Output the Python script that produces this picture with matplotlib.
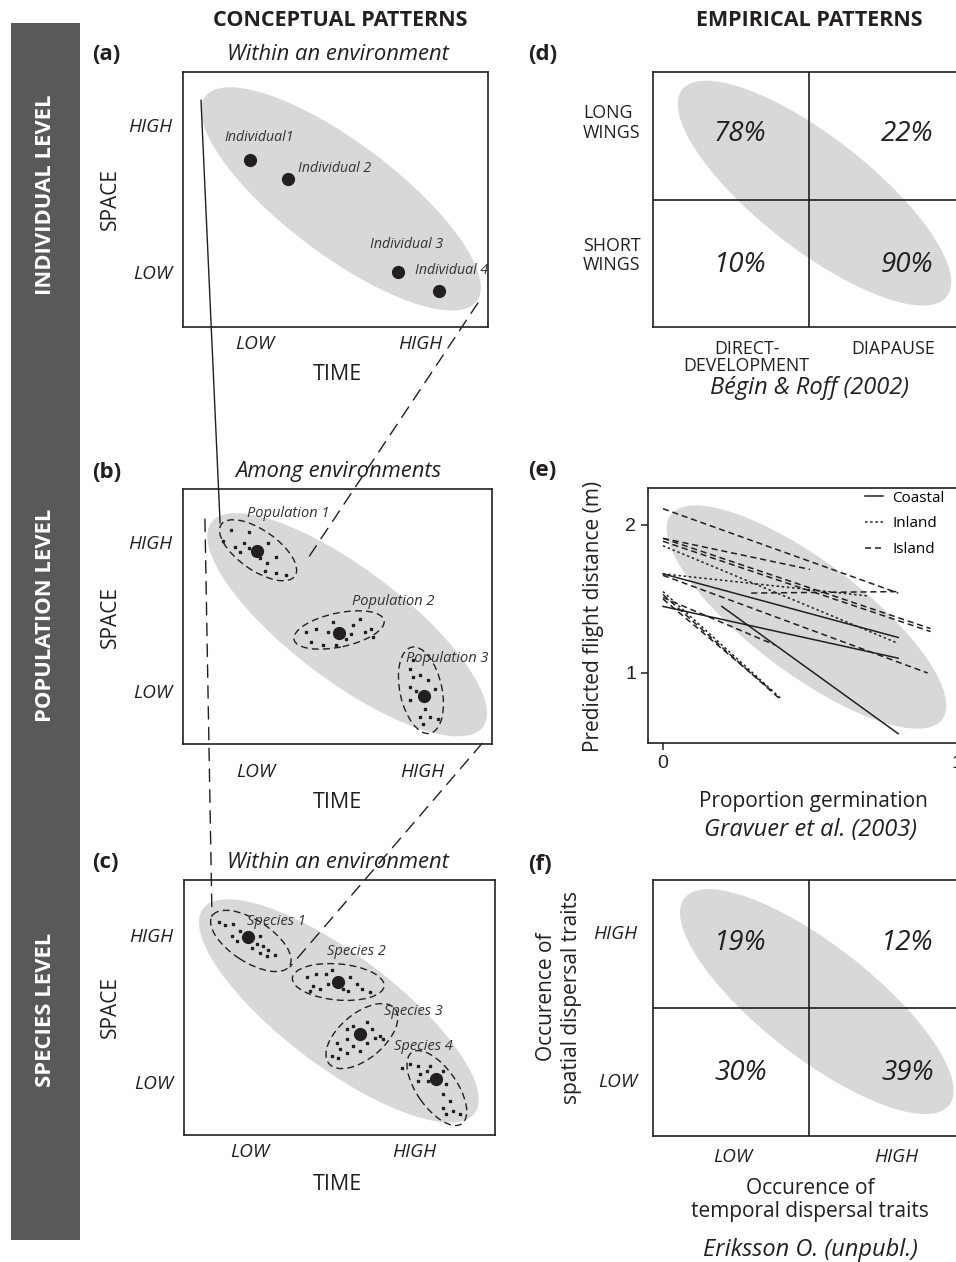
import matplotlib
matplotlib.use("Agg")
import matplotlib.pyplot as plt
import matplotlib.transforms as mtransforms
from matplotlib.patches import Ellipse, Rectangle, ConnectionPatch

plt.rcParams['font.family'] = ['Open Sans', 'DejaVu Sans']

W, H = 956, 1262
GREY = '#d7d8da'
BAR = '#58595b'
INK = '#231f20'

# ---------------- data ----------------
levels = ['INDIVIDUAL LEVEL', 'POPULATION LEVEL', 'SPECIES LEVEL']

# (a) individuals on the TIME / SPACE scale
ind_names = ['Individual1', 'Individual 2', 'Individual 3', 'Individual 4']
ind_time = [2.20, 3.44, 7.05, 8.39]
ind_space = [5.48, 4.85, 1.80, 1.18]

# (b) populations: mean, spread ellipse, and individuals around the mean
pop_names = ['Population 1', 'Population 2', 'Population 3']
pop_time = [2.39, 5.05, 7.80]
pop_space = [6.24, 3.59, 1.54]
pop_ell_time = [2.43, 5.05, 7.70]
pop_ell_space = [6.27, 3.69, 1.74]
pop_ell_len = [2.91, 2.98, 2.85]
pop_ell_wid = [1.29, 1.10, 1.36]
pop_ell_ang = [-35, 12, -78]
pop_dx = [
    [-0.83, -0.24, -1.10, -0.72, -0.40, -0.56, 0.36, 0.09, 0.32, 0.63, 0.25, 0.63, 0.95, -0.24],
    [-1.06, -0.73, -0.90, -0.52, -0.36, -0.19, 0.24, 0.45, 0.67, 0.83, 1.05, 1.10, -0.09, 0.40],
    [-0.46, -0.36, -0.14, 0.13, -0.46, -0.25, 0.35, -0.46, 0.02, -0.14, 0.18, 0.45, -0.03, -0.36],
]
pop_dy = [
    [0.68, 0.63, 0.32, 0.14, 0.28, -0.02, 0.25, -0.22, -0.37, -0.18, -0.65, -0.69, -0.78, 0.09],
    [0.03, 0.14, -0.29, -0.40, 0.03, 0.36, -0.18, 0.25, 0.46, 0.03, 0.14, -0.13, -0.40, -0.02],
    [0.90, 0.63, 0.68, 0.52, 0.30, 0.19, 0.25, -0.13, -0.40, -0.67, -0.67, -0.72, -0.89, 1.17],
]

# (c) species
sp_names = ['Species 1', 'Species 2', 'Species 3', 'Species 4']
sp_time = [2.07, 4.96, 5.66, 8.10]
sp_space = [6.36, 4.91, 3.24, 1.79]
sp_ell_time = [2.15, 4.96, 5.72, 8.13]
sp_ell_space = [6.24, 4.92, 3.18, 1.51]
sp_ell_len = [2.96, 2.96, 2.76, 2.80]
sp_ell_wid = [1.35, 1.16, 1.45, 1.29]
sp_ell_ang = [-33, -5, 40, -55]
sp_dx = [
    [-0.96, -0.75, -0.48, -0.27, -0.54, -0.38, 0.38, 0.27, 0.48, 0.11, 0.38, 0.64, 0.86, 0.61],
    [-1.02, -0.70, -0.38, -0.80, -0.59, -0.91, -0.32, 0.38, 0.59, 0.32, 0.75, 1.02, 0.16, -0.21],
    [-0.43, -0.21, 0.21, 0.38, 0.48, 0.64, 0.75, -0.43, -0.75, -0.64, -0.91, -0.70, -0.43, 0.00, -0.21, 0.21],
    [-1.10, -0.84, -0.57, -0.51, -0.30, -0.19, -0.57, -0.25, 0.24, 0.34, 0.24, 0.45, 0.24, 0.56, 0.77, 0.34],
]
sp_dy = [
    [0.48, 0.38, 0.43, 0.21, 0.05, -0.11, 0.05, -0.21, -0.29, -0.35, -0.50, -0.40, -0.57, -0.61],
    [0.16, 0.27, 0.27, -0.11, -0.21, -0.27, -0.05, 0.16, -0.05, -0.27, -0.21, -0.32, -0.21, 0.38],
    [0.16, 0.27, 0.38, 0.16, -0.11, -0.05, -0.16, -0.16, -0.27, -0.48, -0.70, -0.75, -0.59, -0.54, -0.38, -0.27],
    [0.38, 0.48, 0.43, 0.16, 0.27, 0.43, -0.05, -0.05, 0.27, -0.16, -0.48, -0.70, -0.91, -1.02, -1.13, -1.13],
]

# (d) wing morph x life cycle (Bégin & Roff 2002)
d_rows = ['LONG\nWINGS', 'SHORT\nWINGS']
d_cols = ['DIRECT-\nDEVELOPMENT', 'DIAPAUSE']
d_pct = [[78, 22], [10, 90]]

# (e) predicted flight distance vs proportion germination (Gravuer et al. 2003)
coast_x0 = [0.00, 0.00, 0.20]
coast_y0 = [1.67, 1.45, 1.45]
coast_x1 = [0.80, 0.80, 0.80]
coast_y1 = [1.24, 1.10, 0.59]
inland_x0 = [0.00, 0.00, 0.00]
inland_y0 = [1.86, 1.67, 1.55]
inland_x1 = [0.80, 0.70, 0.40]
inland_y1 = [1.20, 1.52, 0.83]
island_x0 = [0.00, 0.00, 0.00, 0.00, 0.30, 0.00, 0.00, 0.00, 0.00]
island_y0 = [2.11, 1.91, 1.89, 1.91, 1.54, 1.66, 1.53, 1.50, 1.51]
island_x1 = [0.80, 0.91, 0.91, 0.50, 0.80, 0.90, 0.40, 0.37, 0.38]
island_y1 = [1.54, 1.30, 1.28, 1.70, 1.55, 1.00, 0.82, 0.88, 1.19]

# (f) spatial x temporal dispersal traits (Eriksson, unpubl.)
f_levels = ['LOW', 'HIGH']
f_pct = [[19, 12], [30, 39]]


# ---------------- helpers ----------------
fig = plt.figure(figsize=(W / 100, H / 100), dpi=100)


def px_rect(left, top, width, height):
    return [left / W, 1 - (top + height) / H, width / W, height / H]


def ftext(x, y, s, **kw):
    kw.setdefault('ha', 'center')
    kw.setdefault('va', 'center')
    kw.setdefault('color', INK)
    fig.text(x / W, 1 - y / H, s, **kw)


def shade(ax, cx, cy, length=340, thick=112, angle=-37):
    # grey envelope sized in pixels so it keeps its shape on any axis scale
    tr = mtransforms.ScaledTranslation(cx, cy, ax.transData)
    ax.add_patch(Ellipse((0, 0), length, thick, angle=angle, transform=tr,
                         facecolor=GREY, edgecolor='none', zorder=0))


def frame(ax, lw=1.2):
    for s in ax.spines.values():
        s.set_linewidth(lw)
        s.set_color(INK)


def concept_panel(rect, tag, title, xt, yt, time_y):
    left, top, w, h = rect
    ax = fig.add_axes(px_rect(*rect))
    ax.set_xlim(0, 10)
    ax.set_ylim(0, 10 * h / w)
    ax.set_xticks(xt, ['LOW', 'HIGH'], fontstyle='italic', fontsize=13.8)
    ax.set_yticks(yt, ['LOW', 'HIGH'], fontstyle='italic', fontsize=13.8)
    ax.tick_params(length=0, colors=INK)
    ax.tick_params(axis='x', pad=6)
    ax.tick_params(axis='y', pad=8)
    frame(ax)
    ftext(92, top - 17, tag, fontweight='bold', fontsize=16, ha='left')
    ftext(338, top - 17, title, fontstyle='italic', fontsize=15.8)
    ftext(110, top + h / 2, 'SPACE', rotation=90, fontsize=15)
    ftext(337, time_y, 'TIME', fontsize=15.5)
    return ax


def clusters(ax, cx, cy, ex, ey, el, ew, ea, dx, dy, names, lx, ly):
    for i in range(len(cx)):
        ax.add_patch(Ellipse((ex[i], ey[i]), el[i], ew[i], angle=ea[i], fill=False,
                             edgecolor=INK, lw=1.0, ls=(0, (5, 3)), zorder=2))
        ax.plot([cx[i] + v for v in dx[i]], [cy[i] + v for v in dy[i]], 's',
                ms=1.8, color=INK, zorder=3)
        ax.plot(cx[i], cy[i], 'o', ms=8.5, color=INK, zorder=4)
        ax.text(lx[i], ly[i], names[i], fontstyle='italic', fontsize=10.5,
                ha='center', va='center', color='#333333', zorder=5)


# ---------------- left level bar and headers ----------------
fig.add_artist(Rectangle((11 / W, 1 - 1240 / H), 69 / W, 1217 / H,
                         transform=fig.transFigure, facecolor=BAR, edgecolor='none'))
for name, yc in zip(levels, [195, 615, 1010]):
    ftext(45.5, yc, name, rotation=90, color='white', fontweight='bold', fontsize=15.8)

ftext(340, 20, 'CONCEPTUAL PATTERNS', fontweight='bold', fontsize=15.5)
ftext(809, 20, 'EMPIRICAL PATTERNS', fontweight='bold', fontsize=15.5)

# ---------------- (a) ----------------
ax_a = concept_panel((183, 72, 305, 255), '(a)', 'Within an environment',
                     [2.36, 7.77], [1.80, 6.62], 375)
shade(ax_a, 5.18, 4.20)
ax_a.plot(ind_time, ind_space, 'o', ms=8.5, color=INK, zorder=3)
ind_lx = [2.49, 3.77, 6.13, 7.61]
ind_ly = [6.20, 5.21, 2.69, 1.84]
ind_ha = ['center', 'left', 'left', 'left']
for i, name in enumerate(ind_names):
    ax_a.text(ind_lx[i], ind_ly[i], name, fontstyle='italic', fontsize=10.2,
              ha=ind_ha[i], va='center', color='#333333')

# ---------------- (b) ----------------
ax_b = concept_panel((183, 489, 309, 255), '(b)', 'Among environments',
                     [2.36, 7.73], [1.70, 6.55], 802)
ax_b.tick_params(axis='x', pad=14)
shade(ax_b, 5.31, 3.86)
clusters(ax_b, pop_time, pop_space, pop_ell_time, pop_ell_space, pop_ell_len,
         pop_ell_wid, pop_ell_ang, pop_dx, pop_dy, pop_names,
         [3.40, 6.80, 8.54], [7.45, 4.60, 2.76])

# ---------------- (c) ----------------
ax_c = concept_panel((184, 880, 311, 255), '(c)', 'Within an environment',
                     [2.12, 7.39], [1.70, 6.43], 1185)
shade(ax_c, 4.98, 3.99)
clusters(ax_c, sp_time, sp_space, sp_ell_time, sp_ell_space, sp_ell_len,
         sp_ell_wid, sp_ell_ang, sp_dx, sp_dy, sp_names,
         [2.98, 5.55, 7.37, 7.69], [6.86, 5.91, 3.96, 2.84])

# zoom lines linking the levels
links = [
    (ax_a, (0.59, 7.44), ax_b, (1.20, 7.15), '-'),
    (ax_a, (9.67, 0.79), ax_b, (4.01, 5.96), (0, (9, 6))),
    (ax_b, (0.71, 7.28), ax_c, (0.90, 7.03), (0, (9, 6))),
    (ax_b, (9.68, 0.02), ax_c, (3.41, 5.41), (0, (9, 6))),
]
for axA, pA, axB, pB, ls in links:
    fig.add_artist(ConnectionPatch(xyA=pA, coordsA='data', axesA=axA,
                                   xyB=pB, coordsB='data', axesB=axB,
                                   color=INK, lw=1.0, ls=ls, zorder=6))


# ---------------- matrix panels (d) and (f) ----------------
def matrix_panel(rect, pct, ell_xy):
    ax = fig.add_axes(px_rect(*rect))
    ax.set_xlim(0, 2)
    ax.set_ylim(0, 2)
    shade(ax, ell_xy[0], ell_xy[1], length=336, thick=112, angle=-38)
    ax.axvline(1, color=INK, lw=1.2)
    ax.axhline(1, color=INK, lw=1.2)
    cx = [0.56, 1.63]
    cy = [1.51, 0.49]
    for r in range(2):
        for c in range(2):
            ax.text(cx[c], cy[r], f'{pct[r][c]}%', fontstyle='italic', fontsize=20,
                    ha='center', va='center', color=INK)
    ax.tick_params(length=0, colors=INK)
    frame(ax)
    return ax


ax_d = matrix_panel((653, 72, 312, 255), d_pct, (1.035, 1.05))
ax_d.set_yticks([1.62, 0.58], d_rows, fontsize=12.8)
for lab in ax_d.get_yticklabels():
    lab.set_multialignment('left')
    lab.set_linespacing(1.1)
ax_d.set_xticks([0.60, 1.54], d_cols, fontsize=12.8)
for lab in ax_d.get_xticklabels():
    lab.set_linespacing(0.95)
ax_d.tick_params(axis='x', pad=9)
ax_d.tick_params(axis='y', pad=9)
ftext(528, 55, '(d)', fontweight='bold', fontsize=16, ha='left')
ftext(810, 388, 'Bégin & Roff (2002)', fontstyle='italic', fontsize=17)

ax_f = matrix_panel((653, 880, 312, 256), f_pct, (1.05, 1.05))
ax_f.set_yticks([0.44, 1.59], f_levels, fontstyle='italic', fontsize=13.8)
ax_f.set_xticks([0.51, 1.56], f_levels, fontstyle='italic', fontsize=13.8)
ax_f.tick_params(axis='x', pad=9)
ax_f.tick_params(axis='y', pad=11)
ftext(528, 865, '(f)', fontweight='bold', fontsize=16, ha='left')
ftext(559, 997, 'Occurence of\nspatial dispersal traits', rotation=90,
      fontsize=15, linespacing=1.3)
ftext(810, 1200, 'Occurence of\ntemporal dispersal traits', fontsize=15,
      linespacing=1.15)
ftext(810, 1250, 'Eriksson O. (unpubl.)', fontstyle='italic', fontsize=17)

# ---------------- (e) ----------------
ax_e = fig.add_axes(px_rect(648, 488, 324, 255))
ax_e.set_xlim(-0.051, 1.051)
ax_e.set_ylim(0.527, 2.25)
shade(ax_e, 0.488, 1.378)
groups = [
    ('Coastal', '-', coast_x0, coast_y0, coast_x1, coast_y1),
    ('Inland', (0, (1.6, 1.8)), inland_x0, inland_y0, inland_x1, inland_y1),
    ('Island', (0, (4, 2.5)), island_x0, island_y0, island_x1, island_y1),
]
for label, ls, x0, y0, x1, y1 in groups:
    for i in range(len(x0)):
        ax_e.plot([x0[i], x1[i]], [y0[i], y1[i]], ls=ls, color=INK, lw=1.1,
                  label=label if i == 0 else None)
ax_e.legend(loc='upper left', bbox_to_anchor=(0.67, 0.99), frameon=False,
            fontsize=11, handlelength=1.2, handletextpad=0.6,
            labelspacing=0.7, borderpad=0, borderaxespad=0)
ax_e.set_xticks([0, 1])
ax_e.set_yticks([1, 2])
ax_e.tick_params(direction='out', length=5, width=1.1, colors=INK, labelsize=14)
for lab in ax_e.get_xticklabels() + ax_e.get_yticklabels():
    lab.set_fontfamily(['Liberation Sans', 'DejaVu Sans'])
frame(ax_e)
ftext(528, 470, '(e)', fontweight='bold', fontsize=16, ha='left')
ftext(593, 616, 'Predicted flight distance (m)', rotation=90, fontsize=15)
ftext(813, 802, 'Proportion germination', fontsize=15)
ftext(811, 830, 'Gravuer et al. (2003)', fontstyle='italic', fontsize=17)

fig.savefig('out.png', dpi=100)
